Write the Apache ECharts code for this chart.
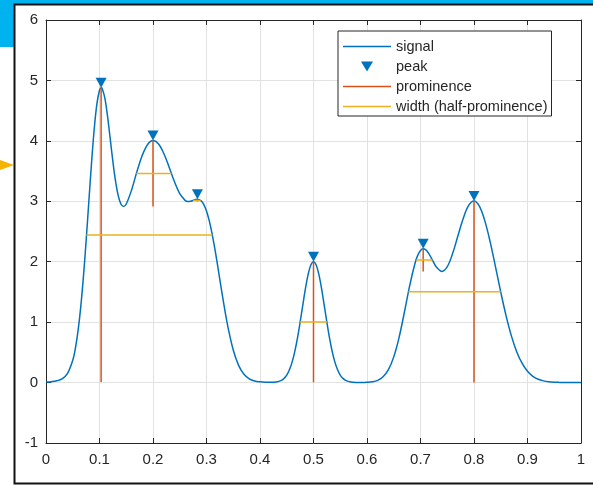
<!DOCTYPE html>
<html><head><meta charset="utf-8">
<script src="https://cdn.jsdelivr.net/npm/echarts@6/dist/echarts.min.js"></script>
<style>html,body{margin:0;padding:0;background:#fff}#c{width:593px;height:486px}</style>
</head><body><div id="c"></div>
<script>
// signal samples
const signalX = [0.00,0.01,0.02,0.03,0.04,0.05,0.055,0.06,0.065,0.07,0.075,0.08,0.085,0.09,0.095,0.10,0.103,0.105,0.11,0.115,0.12,0.125,0.13,0.135,0.14,0.145,0.15,0.16,0.17,0.18,0.19,0.20,0.21,0.22,0.23,0.24,0.25,0.26,0.265,0.27,0.275,0.28,0.283,0.29,0.295,0.30,0.305,0.31,0.315,0.32,0.325,0.33,0.335,0.34,0.35,0.36,0.37,0.38,0.39,0.40,0.41,0.42,0.43,0.44,0.445,0.45,0.455,0.46,0.465,0.47,0.475,0.48,0.485,0.49,0.495,0.50,0.505,0.51,0.515,0.52,0.525,0.53,0.535,0.54,0.545,0.55,0.555,0.56,0.57,0.58,0.59,0.60,0.61,0.62,0.63,0.64,0.65,0.66,0.67,0.68,0.69,0.695,0.70,0.705,0.71,0.715,0.72,0.725,0.73,0.74,0.75,0.76,0.77,0.78,0.79,0.80,0.81,0.82,0.83,0.84,0.85,0.86,0.87,0.88,0.89,0.90,0.91,0.92,0.93,0.94,0.95,0.96,0.97,0.98,0.99,1.00];
const signalY = [0.008,0.015,0.029,0.061,0.147,0.368,0.571,0.863,1.258,1.757,2.346,2.987,3.622,4.183,4.604,4.838,4.880,4.867,4.707,4.409,4.037,3.659,3.332,3.093,2.955,2.915,2.955,3.188,3.492,3.762,3.940,4.004,3.951,3.795,3.569,3.326,3.125,3.015,2.997,3.000,3.014,3.030,3.033,3.007,2.945,2.838,2.683,2.483,2.244,1.980,1.701,1.425,1.162,0.923,0.538,0.284,0.137,0.062,0.027,0.012,0.005,0.004,0.010,0.037,0.070,0.124,0.211,0.338,0.513,0.736,0.999,1.282,1.558,1.790,1.945,2.000,1.945,1.790,1.558,1.282,0.999,0.736,0.513,0.338,0.211,0.124,0.069,0.037,0.009,0.002,0.001,0.004,0.013,0.037,0.095,0.214,0.425,0.749,1.168,1.613,1.983,2.109,2.187,2.214,2.195,2.141,2.065,1.982,1.909,1.840,1.917,2.135,2.430,2.721,2.931,3.004,2.919,2.684,2.336,1.924,1.498,1.104,0.769,0.507,0.316,0.187,0.104,0.055,0.028,0.013,0.006,0.003,0.001,0.000,0.000,0.000];
// peaks
const peakX = [0.103,0.200,0.283,0.500,0.705,0.800];
const peakY = [4.880,4.004,3.033,2.000,2.214,3.004];
// prominence lower ends
const promBase = [0.008,2.915,2.997,0.004,1.840,0.001];
// half-prominence widths
const widthY = [2.444,3.460,3.015,1.002,2.027,1.503];
const widthLeft = [0.0756,0.1689,0.275,0.4749,0.6922,0.6775];
const widthRight = [0.3108,0.2345,0.289,0.5251,0.7224,0.8499];
// axis ticks
const xTicks = {min:0, max:1, step:0.1};
const yTicks = {min:-1, max:6, step:1};
const legendNames = ['signal','peak','prominence','width (half-prominence)'];

const FONT = '"Liberation Sans", Arial, Helvetica, sans-serif';
const TXT = '#262626';
const BLUE = '#0072BD', ORANGE = '#D95319', YELLOW = '#EDB120';
const TRI = 'path://M0,0L12,0L6,10Z';
const LINE_ICON = 'path://M0,0L32,0L32,1L0,1Z';

const series = [];
series.push({name:legendNames[0], type:'line', data:signalX.map((x,i)=>[x,signalY[i]]),
  smooth:0.35, symbol:'none', lineStyle:{color:BLUE,width:1.5}, itemStyle:{color:BLUE}, z:2});
peakX.forEach((x,i)=>series.push({name:legendNames[2], type:'line', data:[[x,promBase[i]],[x,peakY[i]]],
  symbol:'none', lineStyle:{color:ORANGE,width:1.5}, itemStyle:{color:ORANGE}, z:3}));
peakX.forEach((x,i)=>series.push({name:legendNames[3], type:'line', data:[[widthLeft[i],widthY[i]],[widthRight[i],widthY[i]]],
  symbol:'none', lineStyle:{color:YELLOW,width:1.5}, itemStyle:{color:YELLOW}, z:4}));
series.push({name:legendNames[1], type:'scatter', data:peakX.map((x,i)=>[x,peakY[i]]),
  symbol:TRI, symbolSize:[11,10], symbolOffset:[0,-5], itemStyle:{color:BLUE,opacity:1}, z:5});

function axisCommon(show){
  return {
    axisLine:{show:true,onZero:false,lineStyle:{color:TXT,width:1}},
    axisTick:{show:true,inside:true,length:5,lineStyle:{color:TXT,width:1}},
    axisLabel:{show:show,color:TXT,fontSize:15,fontFamily:FONT},
  };
}
const xA = (pos,show)=>Object.assign({type:'value',position:pos,min:xTicks.min,max:xTicks.max,interval:xTicks.step,
  splitLine:{show:show,lineStyle:{color:'#e2e2e2',width:1}}},axisCommon(show));
const yA = (pos,show)=>Object.assign({type:'value',position:pos,min:yTicks.min,max:yTicks.max,interval:yTicks.step,
  splitLine:{show:show,lineStyle:{color:'#e2e2e2',width:1}}},axisCommon(show));
const xAxis = [xA('bottom',true), xA('top',false)];
const yAxis = [yA('left',true), yA('right',false)];
xAxis[0].axisLabel.margin = 9;
yAxis[0].axisLabel.margin = 8;

const chart = echarts.init(document.getElementById('c'));
chart.setOption({
  animation:false,
  backgroundColor:'#ffffff',
  grid:{left:46,top:20,width:535,height:423,containLabel:false},
  xAxis, yAxis,
  legend:{
    orient:'vertical', left:338, top:31, selectedMode:false,
    backgroundColor:'#ffffff', borderColor:TXT, borderWidth:1, borderRadius:0,
    padding:[8,4,2,5], itemGap:5, itemWidth:48, itemHeight:10, symbolKeepAspect:true,
    textStyle:{color:TXT,fontSize:14.5,fontFamily:FONT,lineHeight:14},
    data:[
      {name:legendNames[0],icon:LINE_ICON,itemStyle:{color:BLUE}},
      {name:legendNames[1],icon:TRI,itemStyle:{color:BLUE,opacity:1}},
      {name:legendNames[2],icon:LINE_ICON,itemStyle:{color:ORANGE}},
      {name:legendNames[3],icon:LINE_ICON,itemStyle:{color:YELLOW}}
    ]
  },
  graphic:[
    {type:'rect',shape:{x:0,y:0,width:593,height:4},style:{fill:'#00B2EE'},z:100},
    {type:'rect',shape:{x:0,y:0,width:14,height:47},style:{fill:'#00B2EE'},z:100},
    {type:'polygon',shape:{points:[[0,160],[14,165],[0,170]]},style:{fill:'#F5B400'},z:100},
    {type:'rect',shape:{x:14.5,y:4.5,width:620,height:479},style:{fill:null,stroke:'#111111',lineWidth:2},z:101}
  ],
  series
});
</script></body></html>
